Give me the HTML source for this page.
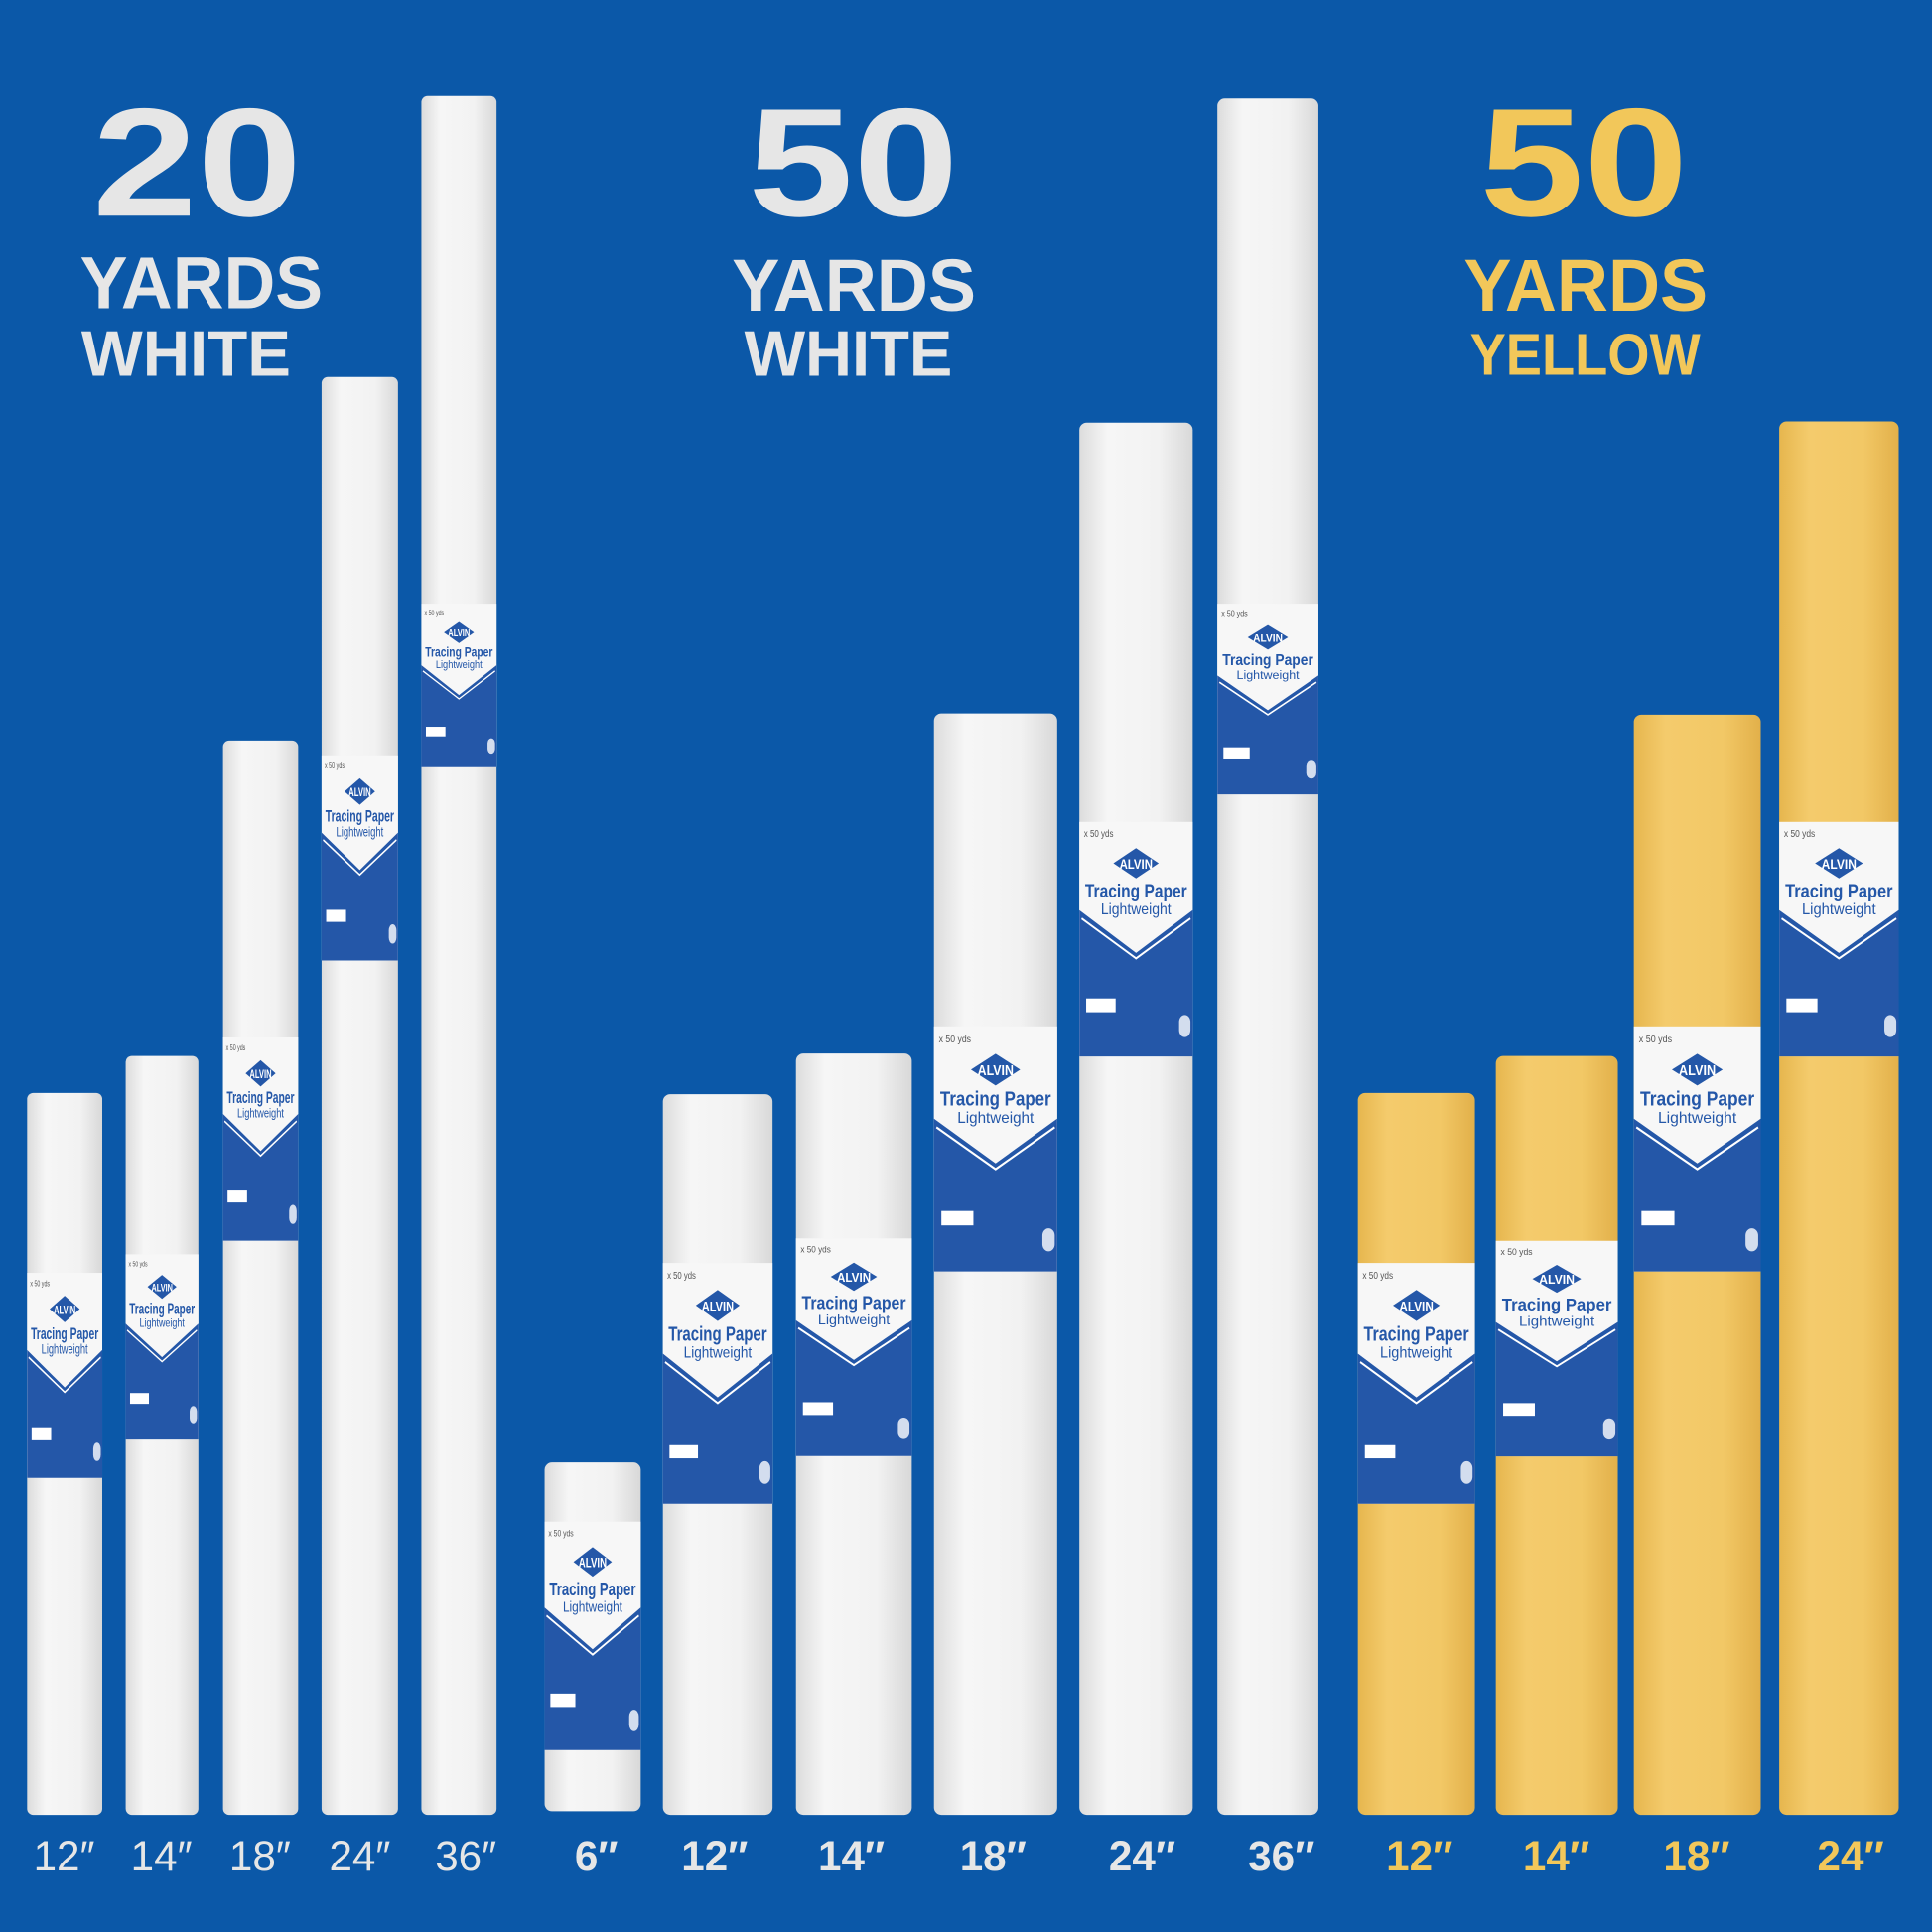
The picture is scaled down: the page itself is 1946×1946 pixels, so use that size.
<!DOCTYPE html>
<html><head><meta charset="utf-8"><style>html,body{margin:0;padding:0;background:#0b58a8}svg{display:block}</style></head>
<body>
<svg width="1946" height="1946" viewBox="0 0 1568 1568" xmlns="http://www.w3.org/2000/svg" font-family="Liberation Sans, sans-serif">
<defs>
<linearGradient id="w" x1="0" x2="1"><stop offset="0" stop-color="#dcdcdc"/><stop offset="0.25" stop-color="#f6f6f6"/><stop offset="0.7" stop-color="#f2f2f2"/><stop offset="1" stop-color="#d8d8d8"/></linearGradient>
<linearGradient id="y" x1="0" x2="1"><stop offset="0" stop-color="#e6b64e"/><stop offset="0.25" stop-color="#f4cb6c"/><stop offset="0.7" stop-color="#f2c866"/><stop offset="1" stop-color="#e2b04a"/></linearGradient>
<g id="lab">
<rect x="0" y="0" width="100" height="170" fill="#f7f7f7"/>
<polygon points="0,64 50,95 100,64 100,170 0,170" fill="#2457a8"/>
<polyline points="2,70 50,99 98,70" fill="none" stroke="#fff" stroke-width="1.5"/>
<text x="4" y="11" font-size="7" fill="#555">x 50 yds</text>
<polygon points="30,30 50,19 70,30 50,41" fill="#2457a8"/>
<text x="50" y="34" font-size="10" font-weight="bold" fill="#fff" text-anchor="middle">ALVIN</text>
<text x="50" y="55" font-size="14" font-weight="bold" fill="#2457a8" text-anchor="middle" textLength="90" lengthAdjust="spacingAndGlyphs">Tracing Paper</text>
<text x="50" y="67" font-size="11" fill="#2457a8" text-anchor="middle" textLength="62" lengthAdjust="spacingAndGlyphs">Lightweight</text>
<rect x="6" y="128" width="26" height="10" fill="#fff"/>
<rect x="88" y="140" width="10" height="16" rx="5" fill="#fff" opacity="0.8"/>
</g>
</defs>
<rect width="1568" height="1568" fill="#0b58a8"/>
<g fill="#e6e6e6" font-weight="bold">
<text x="75" y="175" font-size="125" textLength="170" lengthAdjust="spacingAndGlyphs">20</text>
<text x="65" y="250" font-size="60" textLength="197" lengthAdjust="spacingAndGlyphs">YARDS</text>
<text x="66" y="305" font-size="52" textLength="170" lengthAdjust="spacingAndGlyphs">WHITE</text>
<text x="607" y="175" font-size="125" textLength="171" lengthAdjust="spacingAndGlyphs">50</text>
<text x="594" y="252" font-size="60" textLength="198" lengthAdjust="spacingAndGlyphs">YARDS</text>
<text x="604" y="305" font-size="52" textLength="169" lengthAdjust="spacingAndGlyphs">WHITE</text>
</g>
<g fill="#f2c75a" font-weight="bold">
<text x="1201" y="175" font-size="125" textLength="169" lengthAdjust="spacingAndGlyphs">50</text>
<text x="1188" y="252" font-size="60" textLength="198" lengthAdjust="spacingAndGlyphs">YARDS</text>
<text x="1193" y="304" font-size="48" textLength="187" lengthAdjust="spacingAndGlyphs">YELLOW</text>
</g>
<g>
<rect x="22" y="887" width="61" height="586" rx="5" fill="url(#w)"/>
<rect x="102" y="857" width="59" height="616" rx="5" fill="url(#w)"/>
<rect x="181" y="601" width="61" height="872" rx="5" fill="url(#w)"/>
<rect x="261" y="306" width="62" height="1167" rx="5" fill="url(#w)"/>
<rect x="342" y="78" width="61" height="1395" rx="5" fill="url(#w)"/>
<rect x="442" y="1187" width="78" height="283" rx="6" fill="url(#w)"/>
<rect x="538" y="888" width="89" height="585" rx="6" fill="url(#w)"/>
<rect x="646" y="855" width="94" height="618" rx="6" fill="url(#w)"/>
<rect x="758" y="579" width="100" height="894" rx="6" fill="url(#w)"/>
<rect x="876" y="343" width="92" height="1130" rx="6" fill="url(#w)"/>
<rect x="988" y="80" width="82" height="1393" rx="6" fill="url(#w)"/>
<rect x="1102" y="887" width="95" height="586" rx="6" fill="url(#y)"/>
<rect x="1214" y="857" width="99" height="616" rx="6" fill="url(#y)"/>
<rect x="1326" y="580" width="103" height="893" rx="6" fill="url(#y)"/>
<rect x="1444" y="342" width="97" height="1131" rx="6" fill="url(#y)"/>
</g>
<use href="#lab" transform="translate(22,1033) scale(0.61,0.98)"/>
<use href="#lab" transform="translate(102,1018) scale(0.59,0.88)"/>
<use href="#lab" transform="translate(181,842) scale(0.61,0.97)"/>
<use href="#lab" transform="translate(261,613) scale(0.62,0.98)"/>
<use href="#lab" transform="translate(342,490) scale(0.61,0.78)"/>
<use href="#lab" transform="translate(442,1235) scale(0.78,1.09)"/>
<use href="#lab" transform="translate(538,1025) scale(0.89,1.15)"/>
<use href="#lab" transform="translate(646,1005) scale(0.94,1.04)"/>
<use href="#lab" transform="translate(758,833) scale(1.0,1.17)"/>
<use href="#lab" transform="translate(876,667) scale(0.92,1.12)"/>
<use href="#lab" transform="translate(988,490) scale(0.82,0.91)"/>
<use href="#lab" transform="translate(1102,1025) scale(0.95,1.15)"/>
<use href="#lab" transform="translate(1214,1007) scale(0.99,1.03)"/>
<use href="#lab" transform="translate(1326,833) scale(1.03,1.17)"/>
<use href="#lab" transform="translate(1444,667) scale(0.97,1.12)"/>
<g font-size="34" text-anchor="middle" fill="#e6e6e6">
<text x="52" y="1518">12″</text>
<text x="131" y="1518">14″</text>
<text x="211" y="1518">18″</text>
<text x="292" y="1518">24″</text>
<text x="378" y="1518">36″</text>
</g>
<g font-size="34" text-anchor="middle" fill="#e6e6e6" font-weight="bold">
<text x="484" y="1518">6″</text>
<text x="580" y="1518">12″</text>
<text x="691" y="1518">14″</text>
<text x="806" y="1518">18″</text>
<text x="927" y="1518">24″</text>
<text x="1040" y="1518">36″</text>
</g>
<g font-size="34" text-anchor="middle" fill="#f2c75a" font-weight="bold">
<text x="1152" y="1518">12″</text>
<text x="1263" y="1518">14″</text>
<text x="1377" y="1518">18″</text>
<text x="1502" y="1518">24″</text>
</g>
</svg>
</body></html>
